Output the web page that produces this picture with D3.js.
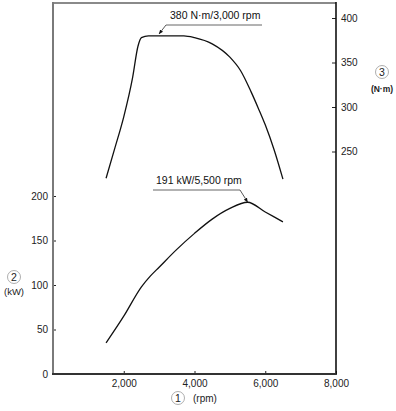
<!DOCTYPE html>
<html>
<head>
    <script src="https://d3js.org/d3.v7.min.js"></script>
    <style>
        body {margin: 0; background: #fff; font-family: "Liberation Sans", Arial, Helvetica, sans-serif;}
        .tick text {font-size: 10px; fill: #222;}
        .curve {fill: none; stroke: #111; stroke-width: 1.3px;}
    </style>
</head>
<body>
    <svg width="396" height="411"></svg>
    <script>
        // engine speed (rpm) and read-off values
        let torqueRpm = [1500, 1750, 2000, 2250, 2400, 2500, 2700, 3000, 3700, 4000, 4500, 5000, 5300, 5600, 5800, 6000, 6250, 6500];
        let torqueNm  = [220, 254, 289, 333, 368, 378, 380, 380, 380, 378, 371, 356, 341, 317, 299, 280, 252, 219];
        let powerRpm  = [1500, 2000, 2500, 2750, 3000, 3500, 4000, 4500, 5000, 5500, 6000, 6500];
        let powerKw   = [35, 65, 98, 110, 120, 140, 158, 174, 186, 193, 182, 171];

        let rpmTicks = [2000, 4000, 6000, 8000];
        let kwTicks = [0, 50, 100, 150, 200];
        let nmTicks = [250, 300, 350, 400];

        let peakTorque = {rpm: 3000, value: 380, label: "380 N\u00b7m/3,000 rpm"};
        let peakPower = {rpm: 5500, value: 191, label: "191 kW/5,500 rpm"};

        let svg = d3.select("svg");
        let mLeft = 53, mRight = 336, mTop = 3, mBottom = 374;

        let x = d3.scaleLinear().domain([0, 8000]).range([mLeft, mRight]);
        // both value axes share the same pixel scale
        let yKw = d3.scaleLinear().domain([0, 400]).range([mBottom, 18]);
        let yNm = d3.scaleLinear().domain([0, 400]).range([mBottom, 18]);

        let fmt = d3.format(",");

        // axes (ticks point inward)
        let gx = svg.append("g").attr("transform", `translate(0,${mBottom})`)
            .call(d3.axisBottom(x).tickValues(rpmTicks).tickFormat(fmt).tickSizeInner(-3).tickSizeOuter(0).tickPadding(6));
        gx.select(".domain").remove();
        gx.selectAll(".tick line").attr("stroke", "#222");

        let gl = svg.append("g").attr("transform", `translate(${mLeft},0)`)
            .call(d3.axisLeft(yKw).tickValues(kwTicks).tickFormat(fmt).tickSizeInner(-3).tickSizeOuter(0).tickPadding(5));
        gl.select(".domain").remove();
        gl.selectAll(".tick line").attr("stroke", "#222");

        let gr = svg.append("g").attr("transform", `translate(${mRight},0)`)
            .call(d3.axisRight(yNm).tickValues(nmTicks).tickFormat(fmt).tickSizeInner(-4).tickSizeOuter(0).tickPadding(5));
        gr.select(".domain").remove();
        gr.selectAll(".tick line").attr("stroke", "#222");

        // frame
        svg.append("line").attr("x1", mLeft).attr("x2", mRight).attr("y1", mTop).attr("y2", mTop)
            .attr("stroke", "#8a8a8a").attr("stroke-width", 2);
        svg.append("line").attr("x1", mLeft).attr("x2", mLeft).attr("y1", mTop - 1).attr("y2", mBottom)
            .attr("stroke", "#7a7a7a").attr("stroke-width", 2);
        svg.append("line").attr("x1", mRight).attr("x2", mRight).attr("y1", mTop - 1).attr("y2", mBottom + 1)
            .attr("stroke", "#111").attr("stroke-width", 1.6);
        svg.append("line").attr("x1", mLeft - 1).attr("x2", mRight).attr("y1", mBottom).attr("y2", mBottom)
            .attr("stroke", "#333").attr("stroke-width", 2);

        // curves
        let torqueLine = d3.line().x((d, i) => x(torqueRpm[i])).y(d => yNm(d)).curve(d3.curveMonotoneX);
        let powerLine = d3.line().x((d, i) => x(powerRpm[i])).y(d => yKw(d)).curve(d3.curveMonotoneX);
        svg.append("path").attr("class", "curve").attr("d", torqueLine(torqueNm));
        svg.append("path").attr("class", "curve").attr("d", powerLine(powerKw));

        // arrow marker
        svg.append("defs").append("marker")
            .attr("id", "arr").attr("viewBox", "0 0 10 10").attr("refX", 9).attr("refY", 5)
            .attr("markerWidth", 5).attr("markerHeight", 5).attr("orient", "auto")
            .append("path").attr("d", "M0,1 L10,5 L0,9 Z").attr("fill", "#111");

        // callouts
        function callout(p, scale, tx, ty, x0, x1, elbow) {
            svg.append("text").attr("x", tx).attr("y", ty).attr("font-size", 10.5).attr("fill", "#111").text(p.label);
            svg.append("line").attr("x1", x0).attr("x2", x1).attr("y1", ty + 6).attr("y2", ty + 6)
                .attr("stroke", "#666").attr("stroke-width", 1);
            svg.append("line").attr("x1", elbow).attr("y1", ty + 6)
                .attr("x2", x(p.rpm)).attr("y2", scale(p.value) - 2)
                .attr("stroke", "#444").attr("stroke-width", 0.9).attr("marker-end", "url(#arr)");
        }
        callout(peakTorque, yNm, 170, 19, 166, 262, 166);
        callout(peakPower, yKw, 156, 184, 153, 240, 240);

        // axis titles with circled numbers
        function circled(cx, cy, n) {
            svg.append("circle").attr("cx", cx).attr("cy", cy).attr("r", 6.5)
                .attr("fill", "none").attr("stroke", "#999").attr("stroke-width", 0.8);
            svg.append("text").attr("x", cx).attr("y", cy + 4).attr("text-anchor", "middle")
                .attr("font-size", 10.5).attr("fill", "#222").text(n);
        }
        circled(178, 398, "1");
        svg.append("text").attr("x", 193).attr("y", 402).attr("font-size", 10).attr("fill", "#222").text("(rpm)");
        circled(14, 277, "2");
        svg.append("text").attr("x", 14).attr("y", 295).attr("text-anchor", "middle").attr("font-size", 9.5).attr("fill", "#222").text("(kW)");
        circled(382, 72, "3");
        svg.append("text").attr("x", 382).attr("y", 92).attr("text-anchor", "middle").attr("font-size", 8.5)
            .attr("font-weight", "bold").attr("fill", "#222").text("(N\u00b7m)");
    </script>
</body>
</html>
